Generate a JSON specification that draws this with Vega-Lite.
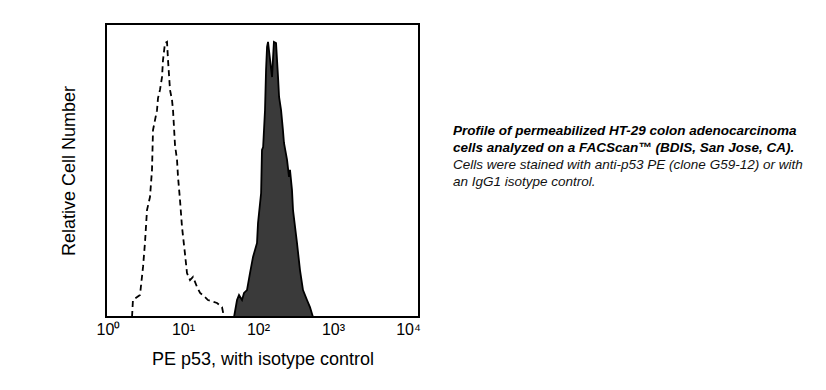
{
  "$schema": "https://vega.github.io/schema/vega-lite/v6.json",
  "autosize": "none",
  "width": 313,
  "height": 293,
  "padding": {"left": 106, "top": 24, "right": 407, "bottom": 73},
  "background": "white",
  "config": {
    "font": "Liberation Sans",
    "view": {"stroke": "black", "strokeWidth": 2}
  },
  "title": {
    "text": ["Profile of permeabilized HT-29 colon adenocarcinoma", "cells analyzed on a FACScan™ (BDIS, San Jose, CA)."],
    "subtitle": ["Cells were stained with anti-p53 PE (clone G59-12) or with", "an IgG1 isotype control."],
    "orient": "top",
    "anchor": "start",
    "frame": "group",
    "dx": 347,
    "dy": 168,
    "font": "Liberation Sans",
    "fontSize": 13.5,
    "fontStyle": "italic",
    "fontWeight": "bold",
    "lineHeight": 17,
    "color": "black",
    "subtitleFont": "Liberation Sans",
    "subtitleFontSize": 13.5,
    "subtitleFontStyle": "italic",
    "subtitleFontWeight": "normal",
    "subtitleLineHeight": 17,
    "subtitleColor": "#111111",
    "subtitlePadding": 3
  },
  "layer": [
    {
      "data": {"values": [
        {"v": 47.9, "n": 0}, {"v": 52.5, "n": 5.8}, {"v": 55.8, "n": 7.5}, {"v": 61.2, "n": 5.8},
        {"v": 65.1, "n": 8.2}, {"v": 71.3, "n": 9.2}, {"v": 78.2, "n": 15.0}, {"v": 85.8, "n": 20.5},
        {"v": 97.0, "n": 25.3}, {"v": 100, "n": 32.1}, {"v": 110, "n": 42.3}, {"v": 113, "n": 57.0},
        {"v": 117, "n": 58.0}, {"v": 124, "n": 70.6}, {"v": 128, "n": 84.3}, {"v": 132, "n": 92.2},
        {"v": 136, "n": 93.9}, {"v": 145, "n": 87.7}, {"v": 154, "n": 81.9}, {"v": 158, "n": 87.7},
        {"v": 163, "n": 93.9}, {"v": 174, "n": 93.5}, {"v": 185, "n": 81.9}, {"v": 191, "n": 75.1},
        {"v": 203, "n": 70.6}, {"v": 215, "n": 63.8}, {"v": 222, "n": 59.4}, {"v": 244, "n": 53.6},
        {"v": 259, "n": 47.8}, {"v": 267, "n": 50.2}, {"v": 284, "n": 43.3}, {"v": 293, "n": 36.5},
        {"v": 331, "n": 25.3}, {"v": 363, "n": 16.0}, {"v": 398, "n": 9.2}, {"v": 450, "n": 5.8},
        {"v": 493, "n": 3.4}, {"v": 541, "n": 0}
      ]},
      "mark": {"type": "area", "fill": "#3a3a3a", "stroke": "black", "strokeWidth": 1.8, "interpolate": "linear"},
      "encoding": {
        "x": {"field": "v", "type": "quantitative",
              "scale": {"type": "log", "domain": [0.94, 14020], "nice": false},
              "axis": {"values": [1, 10, 100, 1000, 10000],
                       "labelExpr": "datum.value == 1 ? '10⁰' : datum.value == 10 ? '10¹' : datum.value == 100 ? '10²' : datum.value == 1000 ? '10³' : '10⁴'",
                       "title": "PE p53, with isotype control",
                       "domain": false, "ticks": false, "grid": false,
                       "labelFontSize": 16, "labelColor": "black", "labelPadding": 4,
                       "labelFlush": false, "labelOverlap": false,
                       "titleFontSize": 18, "titleFontWeight": "normal", "titleColor": "black", "titlePadding": 13}},
        "y": {"field": "n", "type": "quantitative",
              "scale": {"domain": [0, 100], "nice": false},
              "axis": {"title": "Relative Cell Number", "labels": false, "ticks": false, "domain": false, "grid": false,
                       "titleFontSize": 18, "titleFontWeight": "normal", "titleColor": "black", "titlePadding": 28}}
      }
    },
    {
      "data": {"values": [
        {"v": 2.09, "n": 0}, {"v": 2.15, "n": 5.8}, {"v": 2.67, "n": 7.5}, {"v": 2.93, "n": 17.1},
        {"v": 3.11, "n": 25.3}, {"v": 3.31, "n": 36.5}, {"v": 3.63, "n": 41.0}, {"v": 3.86, "n": 50.2},
        {"v": 3.98, "n": 63.8}, {"v": 4.50, "n": 70.6}, {"v": 4.64, "n": 74.7}, {"v": 4.93, "n": 77.5},
        {"v": 5.25, "n": 81.9}, {"v": 5.41, "n": 87.7}, {"v": 5.75, "n": 93.5}, {"v": 6.12, "n": 93.9},
        {"v": 6.31, "n": 87.7}, {"v": 6.71, "n": 77.5}, {"v": 7.13, "n": 74.1}, {"v": 7.36, "n": 70.6},
        {"v": 7.82, "n": 58.7}, {"v": 8.32, "n": 53.6}, {"v": 8.58, "n": 47.8}, {"v": 9.12, "n": 39.9},
        {"v": 9.70, "n": 30.7}, {"v": 10.6, "n": 21.8}, {"v": 11.3, "n": 15.0}, {"v": 12.4, "n": 12.6},
        {"v": 13.6, "n": 13.7}, {"v": 15.4, "n": 10.2}, {"v": 16.9, "n": 8.2}, {"v": 19.7, "n": 6.8},
        {"v": 21.5, "n": 5.8}, {"v": 28.4, "n": 4.8}, {"v": 33.1, "n": 3.4}, {"v": 35.2, "n": 0}
      ]},
      "mark": {"type": "line", "color": "black", "strokeWidth": 1.8, "strokeDash": [6, 4], "interpolate": "linear"},
      "encoding": {
        "x": {"field": "v", "type": "quantitative"},
        "y": {"field": "n", "type": "quantitative"}
      }
    }
  ]
}
